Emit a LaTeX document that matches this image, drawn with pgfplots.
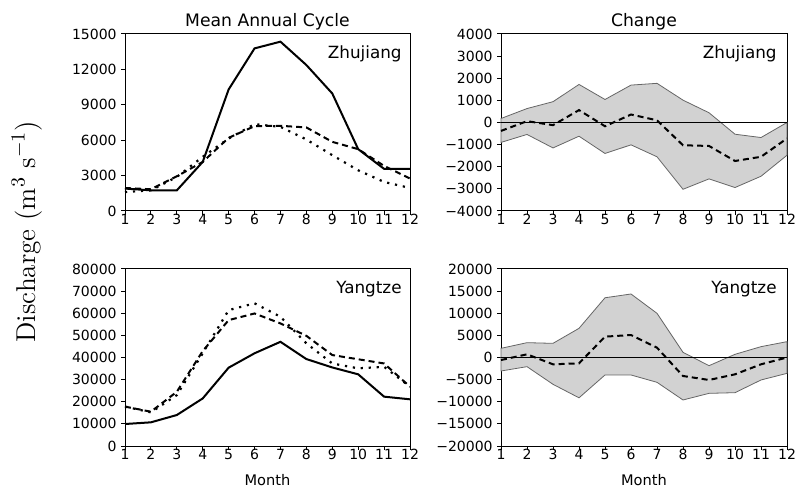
\documentclass[border=0pt]{standalone}
\usepackage{fontspec}
\setmainfont{DejaVu Sans}
\newfontfamily\lmfont{Latin Modern Roman}
\usepackage{pgfplots}
\pgfplotsset{compat=1.18}

\tikzset{
  rivername/.style={anchor=north east, inner sep=0pt, font=\fontsize{8.4}{10}\selectfont},
}
\pgfplotsset{
  panel/.style={
    scale only axis, height=88.5pt,
    xmin=1, xmax=12, xtick={1,...,12},
    axis line style={line width=0.5pt},
    tick align=outside, tick pos=left,
    major tick length=2pt,
    tick style={black, line width=0.5pt},
    ticklabel style={font=\fontsize{7}{8}\selectfont, inner sep=0pt},
    xticklabel style={yshift=0.5pt},
    yticklabel style={xshift=-2pt},
    /pgf/number format/assume math mode=true,
    /pgf/number format/1000 sep={},
    scaled y ticks=false,
    clip=false,
    title style={font=\fontsize{8.6}{10}\selectfont, anchor=base, at={(0.5,1)}, yshift=-2.5pt},
    xlabel style={font=\fontsize{7.3}{9}\selectfont, anchor=base, at={(axis description cs:0.5,0)}, yshift=-19.5pt},
  },
  leftpanel/.style={panel, width=142.5pt},
  rightpanel/.style={panel, width=143pt},
  solidline/.style={black, line width=1pt},
  dashline/.style={black, line width=1pt, dash pattern=on 3pt off 2pt},
  dotline/.style={black, line width=1.1pt, dash pattern=on 1.1pt off 2.9pt},
  band/.style={fill=gray!35, draw=black!60, line width=0.4pt},
}

\begin{document}
\begin{tikzpicture}
\useasboundingbox (0,0) rectangle (403pt,-245pt);

% Zhujiang mean annual cycle
\begin{axis}[leftpanel, at={(62.5pt,-105.5pt)}, anchor=south west,
  ymin=0, ymax=15000, ytick={0,3000,...,15000},
  title={Mean Annual Cycle}]
\addplot[solidline] coordinates {(1,1900) (2,1750) (3,1750) (4,4160) (5,10300) (6,13780) (7,14350) (8,12370) (9,9960) (10,5240) (11,3570) (12,3570)};
\addplot[dashline] coordinates {(1,1950) (2,1840) (3,2940) (4,4160) (5,6200) (6,7190) (7,7220) (8,7080) (9,5860) (10,5240) (11,3820) (12,2750)};
\addplot[dotline] coordinates {(1,1610) (2,1750) (3,2890) (4,4590) (5,6140) (6,7360) (7,7130) (8,6060) (9,4730) (10,3450) (11,2460) (12,1950)};
\node[rivername] at (rel axis cs:0.972,0.935) {Zhujiang};
\end{axis}

% Zhujiang change: spread (upper 1..12, then lower 12..1), zero line, ensemble mean
\begin{axis}[rightpanel, at={(250.5pt,-105.5pt)}, anchor=south west,
  ymin=-4000, ymax=4000, ytick={-4000,-3000,...,4000},
  yticklabels={−4000,−3000,−2000,−1000,0,1000,2000,3000,4000},
  title={Change}]
\addplot[band] coordinates {(1,180) (2,630) (3,940) (4,1720) (5,1040) (6,1690) (7,1770) (8,1010) (9,440) (10,-530) (11,-680) (12,0)
  (12,-1480) (11,-2430) (10,-2940) (9,-2550) (8,-3020) (7,-1550) (6,-1010) (5,-1400) (4,-620) (3,-1150) (2,-540) (1,-900)} -- cycle;
\addplot[black, line width=0.6pt] coordinates {(1,0) (12,0)};
\addplot[dashline] coordinates {(1,-380) (2,60) (3,-120) (4,560) (5,-170) (6,360) (7,100) (8,-1030) (9,-1060) (10,-1740) (11,-1550) (12,-720)};
\node[rivername] at (rel axis cs:0.965,0.935) {Zhujiang};
\end{axis}

% Yangtze mean annual cycle
\begin{axis}[leftpanel, at={(62.5pt,-223pt)}, anchor=south west,
  ymin=0, ymax=80000, ytick={0,10000,...,80000},
  xlabel={Month}]
\addplot[solidline] coordinates {(1,9940) (2,10700) (3,14000) (4,21500) (5,35400) (6,41900) (7,47100) (8,39300) (9,35500) (10,32400) (11,22300) (12,21100)};
\addplot[dashline] coordinates {(1,17800) (2,15500) (3,24500) (4,42900) (5,56900) (6,59900) (7,55400) (8,49800) (9,41100) (10,39200) (11,37300) (12,26800)};
\addplot[dotline] coordinates {(1,17800) (2,15200) (3,23000) (4,41900) (5,61400) (6,64500) (7,58400) (8,46400) (9,37300) (10,35100) (11,35800) (12,26800)};
\node[rivername] at (rel axis cs:0.972,0.935) {Yangtze};
\end{axis}

% Yangtze change
\begin{axis}[rightpanel, at={(250.5pt,-223pt)}, anchor=south west,
  ymin=-20000, ymax=20000, ytick={-20000,-15000,...,20000},
  yticklabels={−20000,−15000,−10000,−5000,0,5000,10000,15000,20000},
  xlabel={Month}]
\addplot[band] coordinates {(1,2070) (2,3350) (3,3200) (4,6590) (5,13500) (6,14350) (7,9980) (8,1170) (9,-1850) (10,720) (11,2450) (12,3580)
  (12,-3580) (11,-5080) (10,-7950) (9,-8100) (8,-9600) (7,-5610) (6,-3950) (5,-3950) (4,-9110) (3,-6060) (2,-2070) (1,-3050)} -- cycle;
\addplot[black, line width=0.6pt] coordinates {(1,0) (12,0)};
\addplot[dashline] coordinates {(1,-570) (2,720) (3,-1540) (4,-1320) (5,4710) (6,5080) (7,2220) (8,-4180) (9,-5080) (10,-3800) (11,-1540) (12,0)};
\node[rivername] at (rel axis cs:0.965,0.935) {Yangtze};
\end{axis}

\node[rotate=90, anchor=base, font=\lmfont\fontsize{13.6}{16}\selectfont] at (17.5pt,-115.75pt) {Discharge (m$^3$ s$^{-1}$)};
\end{tikzpicture}
\end{document}
